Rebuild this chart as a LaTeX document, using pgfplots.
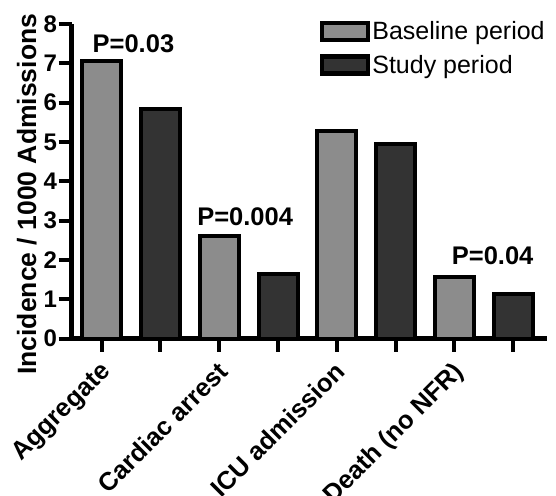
\documentclass[border=0pt]{standalone}
\usepackage{pgfplots}
\pgfplotsset{compat=1.18}
\usepackage{fontspec}
\setmainfont{Liberation Sans}
\definecolor{basegray}{HTML}{8C8C8C}
\definecolor{studygray}{HTML}{333333}
\begin{document}
\begin{tikzpicture}
\begin{axis}[
  scale only axis, width=475bp, height=314.5bp,
  ymin=0, ymax=8, xmin=-0.51, xmax=7.57,
  axis x line*=bottom, axis y line*=left,
  axis line style={line width=4.5bp, -, black},
  tick style={line width=4bp, black},
  major tick length=13bp, tick align=outside,
  ytick={0,1,...,8},
  xtick={0,1,...,7},
  xticklabels={Aggregate,,Cardiac arrest,,ICU admission,,Death (no NFR),},
  /pgf/number format/assume math mode=true,
  yticklabel style={font=\bfseries\fontsize{24bp}{24bp}\selectfont, inner sep=1.5bp},
  xticklabel style={font=\bfseries\fontsize{25.5bp}{25.5bp}\selectfont, xshift=-3bp, yshift=-7bp, rotate=45, anchor=north east, inner sep=1bp},
  ylabel={Incidence / 1000 Admissions},
  ylabel style={font=\bfseries\fontsize{26.5bp}{26.5bp}\selectfont, xshift=-13bp, yshift=2bp},
  legend style={at={(0.522,1.015)}, anchor=north west, draw=none, fill=none,
    font=\fontsize{25bp}{25bp}\selectfont, inner sep=0pt, row sep=10bp,
    /tikz/every even column/.append style={column sep=4bp}},
  legend cell align=left,
]
\addplot[ybar, bar width=39bp, bar shift=0pt, fill=basegray, draw=black, line width=4bp,
  legend image code/.code={\draw[fill=basegray, draw=black, line width=4.5bp] (0bp,-8.5bp) rectangle (46bp,8.5bp);}]
  coordinates {(0,7.05) (2,2.6) (4,5.27) (6,1.57)};
\addlegendentry{Baseline period}
\addplot[ybar, bar width=39bp, bar shift=0pt, fill=studygray, draw=black, line width=4bp,
  legend image code/.code={\draw[fill=studygray, draw=black, line width=4.5bp] (0bp,-8.5bp) rectangle (46bp,8.5bp);}]
  coordinates {(1,5.85) (3,1.63) (5,4.95) (7,1.13)};
\addlegendentry{Study period}
\node[font=\bfseries\fontsize{25.5bp}{25.5bp}\selectfont] at (axis cs:0.54,7.49) {P=0.03};
\node[font=\bfseries\fontsize{25.5bp}{25.5bp}\selectfont] at (axis cs:2.44,3.1) {P=0.004};
\node[font=\bfseries\fontsize{25.5bp}{25.5bp}\selectfont] at (axis cs:6.65,2.1) {P=0.04};
\end{axis}
\pgfresetboundingbox
\path[use as bounding box] (-71.7bp,-157.5bp) rectangle (484.3bp,338.5bp);
\end{tikzpicture}
\end{document}
